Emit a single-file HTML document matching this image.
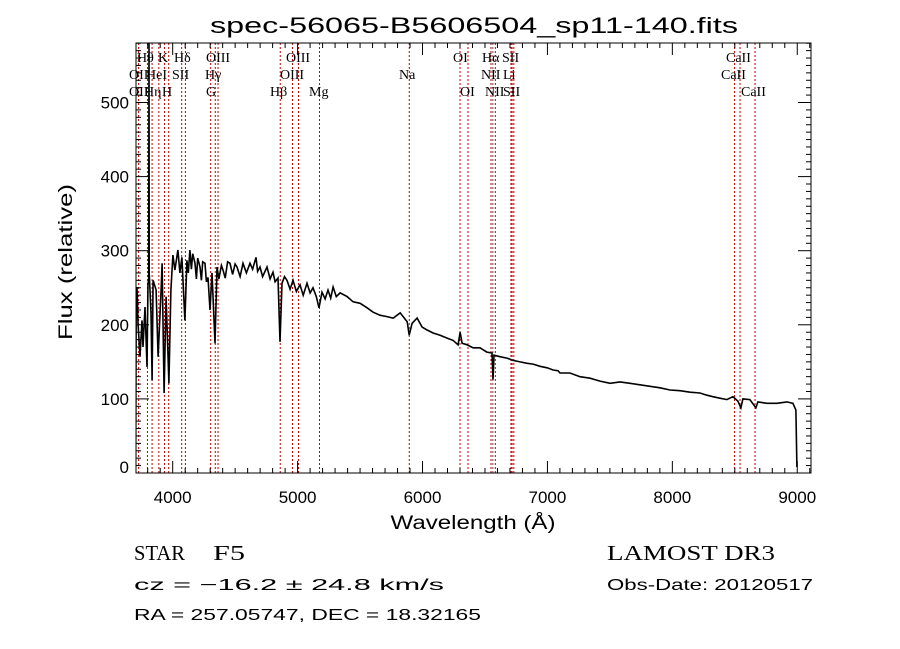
<!DOCTYPE html>
<html><head><meta charset="utf-8"><style>
html,body{margin:0;padding:0;background:#fff;}
svg{display:block;}
text{font-family:"Liberation Sans",sans-serif;fill:#000;}
.ser{font-family:"Liberation Serif",serif;}
</style></head><body>
<svg id="chart" width="900" height="649" viewBox="0 0 900 649" xmlns="http://www.w3.org/2000/svg">
<rect width="900" height="649" fill="#fff"/>
<text x="474" y="33" font-size="22" text-anchor="middle" textLength="528" lengthAdjust="spacingAndGlyphs">spec-56065-B5606504_sp11-140.fits</text>
<g id="lines"></g>
<g id="spec"></g>
<g id="axes"></g>
<text x="473" y="529" font-size="19" text-anchor="middle" textLength="165" lengthAdjust="spacingAndGlyphs">Wavelength (Å)</text>
<text transform="translate(72,262) rotate(-90)" font-size="19" text-anchor="middle" textLength="156" lengthAdjust="spacingAndGlyphs">Flux (relative)</text>
<text class="ser" x="134" y="560" font-size="21" textLength="51" lengthAdjust="spacingAndGlyphs">STAR</text>
<text class="ser" x="213" y="560" font-size="21" textLength="32" lengthAdjust="spacingAndGlyphs">F5</text>
<text class="ser" x="607" y="560" font-size="21" textLength="168" lengthAdjust="spacingAndGlyphs">LAMOST DR3</text>
<text x="134" y="590" font-size="16" textLength="310" lengthAdjust="spacingAndGlyphs">cz = −16.2 ± 24.8 km/s</text>
<text x="607" y="590" font-size="16" textLength="206" lengthAdjust="spacingAndGlyphs">Obs-Date: 20120517</text>
<text x="134" y="620" font-size="16" textLength="347" lengthAdjust="spacingAndGlyphs">RA = 257.05747, DEC =  18.32165</text>
</svg>
<script>
const wavelengths=[3704,3708,3714,3722,3738,3754,3762,3778,3794,3802,3808,3810,3812,3826,3835,3843,3867,3883,3907,3915,3931,3947,3970,3986,4002,4018,4042,4058,4074,4098,
4114,4125,4138,4150,4160,4179,4190,4200,4219,4230,4240,4259,4270,4283,4299,4315,4339,4355,
4370,4390,4403,4420,4440,4459,4480,4500,4515,4540,4563,4590,4619,4640,4667,4680,4699,4720,4755,4780,4803,4820,4843,4859,
4875,4895,4915,4940,4963,4990,5019,5045,5075,5100,5123,5150,5171,5195,5220,5243,5265,5284,5310,5340,
5396,5444,5500,5556,5604,5660,5716,5765,5821,5877,5893,5917,5957,5997,6037,6085,6141,6197,6245,6285,6301,6317,6357,6405,6460,6516,6556,6564,6572,6620,6676,6725,6781,6837,6885,6941,6997,7045,7085,7101,7181,7261,7341,7421,7501,7581,7661,7741,7821,7901,7981,8061,8141,8221,8277,8325,8381,8437,8485,8525,8549,8565,8621,8669,8685,8757,8837,8917,8965,8989,8997];
const fluxValues=[10,230,251,202,157,206,170,224,143,256,260,600,270,216,125,260,247,157,247,283,108,238,121,247,294,274,301,270,291,206,
287,270,301,275,296,283,262,290,278,260,285,283,258,264,220,270,175,278,
262,280,274,263,285,283,268,282,278,265,283,270,283,275,291,272,278,265,278,262,271,258,263,177,
256,265,260,248,260,245,254,240,256,243,250,238,223,244,235,247,236,251,238,243,
238,231,229,223,217,213,211,209,216,204,186,202,209,197,193,189,186,182,179,173,190,175,173,169,169,163,162,126,159,157,155,152,150,148,147,144,142,139,138,135,135,130,128,124,121,123,121,119,117,115,112,111,109,108,105,103,101,99,103,97,88,100,99,88,96,94,94,96,94,85,8];
const lineWaves=[3727,3798,3835,3889,3934,3968,4072,4102,4304,4341,4363,4861,4959,5007,5175,5894,6300,6364,6548,6563,6583,6708,6717,6731,8498,8542,8662];
const lineLabels=[["OII",129,74],["OII",129,91],["Hθ",137,57],["Hη",144,91],["HeI",146,74],["K",158,57],["H",162,91],["SII",172,74],["Hδ",174,57],["G",206,91],["Hγ",205,74],["OIII",206,57],["Hβ",270,91],["OIII",280,74],["OIII",286,57],["Mg",309,91],["Na",399,74],["OI",453,57],["OI",460,91],["Hα",482,57],["NII",481,74],["NII",485,91],["SII",502,57],["Li",503,74],["SII",503,91],["CaII",726,57],["CaII",721,74],["CaII",741,91]];
const xTicks=[4000,5000,6000,7000,8000,9000];
const yTicks=[0,100,200,300,400,500];

const L=136,R=811,T=43,B=473;
const XMIN=3706.3,XMAX=9110,YMIN=0,YMAX=580.3;
function xs(w){return L+(w-XMIN)/(XMAX-XMIN)*(R-L);}
function ys(f){return B-(f-YMIN)/(YMAX-YMIN)*(B-T);}
const NS="http://www.w3.org/2000/svg";
function mk(tag,attrs,parent){const e=document.createElementNS(NS,tag);for(const k in attrs)e.setAttribute(k,attrs[k]);parent.appendChild(e);return e;}

const lg=document.getElementById('lines');
lineWaves.forEach(w=>{
  const isBlack=(w===6563);
  const ln=mk('line',{x1:xs(w),x2:xs(w),y1:T,y2:B,stroke:isBlack?'#555':'#c00000','stroke-width':1,'stroke-dasharray':'2,2'},lg);
  
  
});
lineLabels.forEach(l=>{
  const t=mk('text',{x:l[1],y:l[2]+5,'font-size':14,class:'ser'},lg);
  t.textContent=l[0];
  
  
});

const sg=document.getElementById('spec');
const defs=mk('defs',{},sg);
const cp=mk('clipPath',{id:'clip'},defs);
mk('rect',{x:L,y:T,width:R-L,height:B-T},cp);
let d='';
wavelengths.forEach((w,i)=>{d+=(i?'L':'M')+xs(w).toFixed(1)+','+ys(fluxValues[i]).toFixed(1);});
const p=mk('path',{d:d,fill:'none',stroke:'#000','stroke-width':1.6,'stroke-linejoin':'miter','clip-path':'url(#clip)'},sg);



const ag=document.getElementById('axes');
const box=mk('rect',{x:L,y:T,width:R-L,height:B-T,fill:'none',stroke:'#000','stroke-width':1},ag);


for(let w=3800;w<=XMAX;w+=100){
  const major=(w%1000===0);const len=major?12:5;const x=xs(w);
  mk('line',{x1:x,x2:x,y1:B,y2:B-len,stroke:'#000','stroke-width':1},ag);
  mk('line',{x1:x,x2:x,y1:T,y2:T+len,stroke:'#000','stroke-width':1},ag);
}
xTicks.forEach(v=>{
  const t=mk('text',{x:xs(v),y:503,'font-size':17,'text-anchor':'middle'},ag);
  t.textContent=v;
  
  
});
for(let f=0;f<=YMAX;f+=10){
  const major=(f%100===0);const len=major?13:5;const y=ys(f);
  mk('line',{x1:L,x2:L+len,y1:y,y2:y,stroke:'#000','stroke-width':1},ag);
  mk('line',{x1:R,x2:R-len,y1:y,y2:y,stroke:'#000','stroke-width':1},ag);
}
yTicks.forEach(v=>{
  let y=ys(v)+6; if(v===0) y=B;
  const t=mk('text',{x:129,y:y,'font-size':17,'text-anchor':'end'},ag);
  t.textContent=v;
  
  
});
</script>
</body></html>
